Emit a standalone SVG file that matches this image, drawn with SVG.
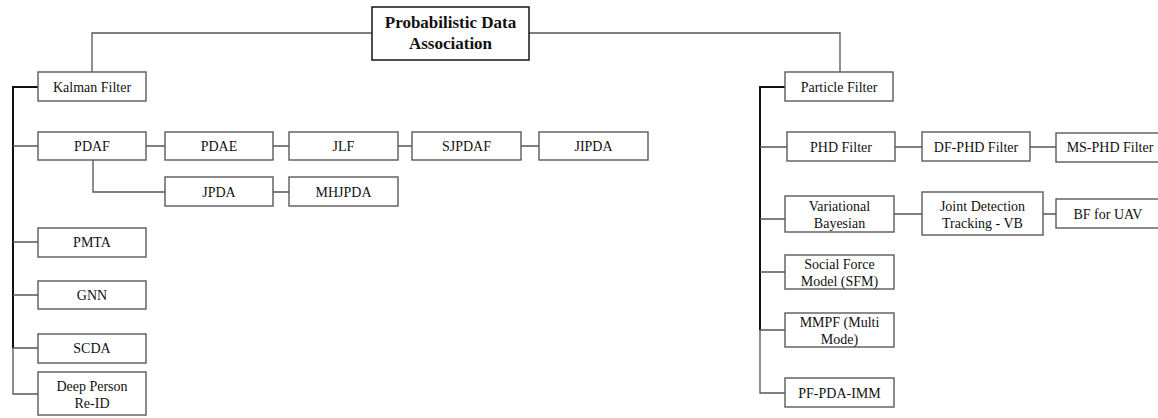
<svg xmlns="http://www.w3.org/2000/svg" width="1158" height="418" viewBox="0 0 1158 418">
<style>
.box{fill:#fff;stroke:#5a5a5a;stroke-width:1.4}
.root{fill:#fff;stroke:#222;stroke-width:1.6}
.t{font-family:"Liberation Serif","Times New Roman",serif;font-size:14px;fill:#111;text-anchor:middle}
.rt{font-family:"Liberation Serif","Times New Roman",serif;font-size:17px;font-weight:bold;fill:#111;text-anchor:middle}
.c{fill:none;stroke:#555;stroke-width:1.3}
.sp{fill:none;stroke:#111;stroke-width:2}
</style>
<rect width="1158" height="418" fill="#fff"/>
<g id="connectors">
<path class="c" d="M372 33H92V72"/>
<path class="c" d="M529 33H840V72"/>
<path class="sp" d="M38 87H13V348"/>
<path class="c" d="M13 348V394H38"/>
<path class="c" d="M13 146H38M13 242H38M13 295H38M13 348H38"/>
<path class="c" d="M146 146H165M273 146H289M398 146H412M521 146H539"/>
<path class="c" d="M93 160V192H165M273 192H289"/>
<path class="sp" d="M785 87H760V330"/>
<path class="c" d="M760 330V393H785"/>
<path class="c" d="M760 147H787M760 219H785M760 272H785M760 330H785"/>
<path class="c" d="M895 147H922M1030 147H1056"/>
<path class="c" d="M894 214H922M1043 214H1056"/>
</g>
<g id="root"><rect class="root" x="372" y="7" width="157" height="53"/><text class="rt" x="450.5" y="28">Probabilistic Data</text><text class="rt" x="450.5" y="49">Association</text></g>
<g id="kalman"><rect class="box" x="38" y="72" width="108" height="29"/><text class="t" x="92" y="92">Kalman Filter</text></g>
<g id="pdaf"><rect class="box" x="38" y="132" width="108" height="28"/><text class="t" x="92" y="151">PDAF</text></g>
<g id="pdae"><rect class="box" x="165" y="132" width="108" height="28"/><text class="t" x="219" y="151">PDAE</text></g>
<g id="jlf"><rect class="box" x="289" y="132" width="109" height="28"/><text class="t" x="343.5" y="151">JLF</text></g>
<g id="sjpdaf"><rect class="box" x="412" y="132" width="109" height="28"/><text class="t" x="466.5" y="151">SJPDAF</text></g>
<g id="jipda"><rect class="box" x="539" y="132" width="109" height="28"/><text class="t" x="593.5" y="151">JIPDA</text></g>
<g id="jpda"><rect class="box" x="165" y="177" width="108" height="29"/><text class="t" x="219" y="197">JPDA</text></g>
<g id="mhjpda"><rect class="box" x="289" y="177" width="109" height="29"/><text class="t" x="343.5" y="197">MHJPDA</text></g>
<g id="pmta"><rect class="box" x="38" y="228" width="108" height="29"/><text class="t" x="92" y="247">PMTA</text></g>
<g id="gnn"><rect class="box" x="38" y="281" width="108" height="28"/><text class="t" x="92" y="300">GNN</text></g>
<g id="scda"><rect class="box" x="38" y="334" width="108" height="29"/><text class="t" x="92" y="353">SCDA</text></g>
<g id="deep"><rect class="box" x="38" y="372" width="108" height="43"/><text class="t" x="92" y="391">Deep Person</text><text class="t" x="92" y="408">Re-ID</text></g>
<g id="particle"><rect class="box" x="785" y="72" width="108" height="29"/><text class="t" x="839" y="92">Particle Filter</text></g>
<g id="phd"><rect class="box" x="787" y="132" width="108" height="29"/><text class="t" x="841" y="152">PHD Filter</text></g>
<g id="dfphd"><rect class="box" x="922" y="132" width="108" height="29"/><text class="t" x="976" y="152">DF-PHD Filter</text></g>
<g id="msphd"><rect class="box" x="1056" y="133" width="108" height="29"/><text class="t" x="1110" y="152">MS-PHD Filter</text></g>
<g id="vb"><rect class="box" x="785" y="196" width="109" height="36"/><text class="t" x="839.5" y="211">Variational</text><text class="t" x="839.5" y="228">Bayesian</text></g>
<g id="jdt"><rect class="box" x="922" y="192" width="121" height="43"/><text class="t" x="982.5" y="211">Joint Detection</text><text class="t" x="982.5" y="228">Tracking - VB</text></g>
<g id="bfuav"><rect class="box" x="1056" y="199" width="108" height="29"/><text class="t" x="1108" y="219">BF for UAV</text></g>
<g id="sfm"><rect class="box" x="785" y="255" width="109" height="34"/><text class="t" x="839.5" y="269">Social Force</text><text class="t" x="839.5" y="286">Model (SFM)</text></g>
<g id="mmpf"><rect class="box" x="785" y="313" width="109" height="34"/><text class="t" x="839.5" y="327">MMPF (Multi</text><text class="t" x="839.5" y="344">Mode)</text></g>
<g id="pfpda"><rect class="box" x="785" y="378" width="109" height="29"/><text class="t" x="839.5" y="398">PF-PDA-IMM</text></g>
</svg>
